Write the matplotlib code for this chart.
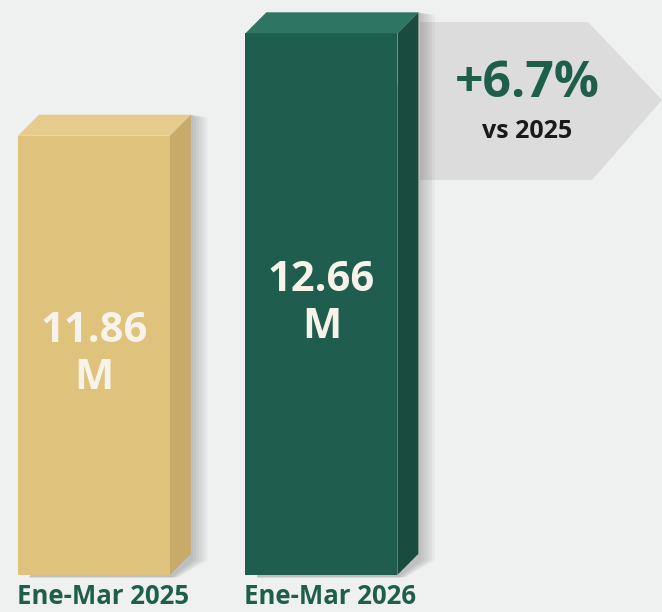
import numpy as np
import matplotlib.pyplot as plt
from matplotlib.patches import Polygon

# datos
periodos = ['Ene-Mar 2025', 'Ene-Mar 2026']
valores = [11.86, 12.66]
etiquetas = ['11.86\nM', '12.66\nM']
variacion = '+6.7%'
variacion_sub = 'vs 2025'

# colores (frente, arriba, lado)
caras = [('#dfc27c', '#e5cb8e', '#c8aa6a'),
         ('#1f5e4e', '#2f7563', '#194c3f')]
verde = '#1f5e4b'
fondo = '#eff0f0'

plt.rcParams['font.family'] = ['Open Sans', 'DejaVu Sans']

W, H = 662, 612
fig = plt.figure(figsize=(W / 100, H / 100), dpi=100, facecolor=fondo)
ax = fig.add_axes([0, 0, 1, 1])
ax.set_facecolor(fondo)
ax.set_xlim(-0.413, 2.497)
ax.set_ylim(8.14, 12.92)
ax.axis('off')

base = 8.43
ancho = 0.668
dx, dy = 0.092, 0.164   # profundidad 3D

def px(x, y):
    return (x / W, 1 - y / H)

# flecha gris
flecha = Polygon([px(420, 22), px(588, 22), px(662, 100), px(592, 180), px(420, 180)],
                 closed=True, transform=ax.transAxes, facecolor='#dcdcdc',
                 edgecolor='none', zorder=1)
ax.add_patch(flecha)

x = np.arange(len(valores))
for i, v in enumerate(valores):
    frente, arriba, lado = caras[i]
    x0, x1 = x[i] - ancho / 2, x[i] + ancho / 2
    # sombra suave
    for k in range(6):
        off = 0.006 * (k + 1)
        sombra = Polygon([(x1 + dx, v + dy), (x1 + dx + off * 2, v + dy - 0.02),
                          (x1 + dx + off * 2, base + dy - 0.05), (x1 + off, base - 0.02),
                          (x0 + 0.05, base - 0.02)],
                         closed=True, facecolor='#000000', alpha=0.035,
                         edgecolor='none', zorder=2)
        ax.add_patch(sombra)
    ax.bar(x[i], v - base, bottom=base, width=ancho, color=frente, zorder=3)
    ax.add_patch(Polygon([(x0, v), (x1, v), (x1 + dx, v + dy), (x0 + dx, v + dy)],
                         closed=True, facecolor=arriba, edgecolor='none', zorder=3))
    ax.add_patch(Polygon([(x1, base), (x1, v), (x1 + dx, v + dy), (x1 + dx, base + dy)],
                         closed=True, facecolor=lado, edgecolor='none', zorder=3))
    ax.text(x[i], (v + base) / 2, etiquetas[i], ha='center', va='center',
            color='#f7f3ea', fontsize=30, fontweight='bold', linespacing=1.2,
            zorder=4)
    ax.text(x[i] + 0.04, px(0, 597)[1], periodos[i], transform=ax.get_xaxis_transform(),
            ha='center', va='center', color=verde, fontsize=18.5, fontweight='bold')

ax.text(*px(527, 84), variacion, transform=ax.transAxes, ha='center', va='center',
        color=verde, fontsize=36, fontweight='bold', zorder=4)
ax.text(*px(527, 131), variacion_sub, transform=ax.transAxes, ha='center', va='center',
        color='#1a1a1a', fontsize=18, fontweight='bold', zorder=4)

fig.savefig('out.png', dpi=100, facecolor=fondo)
